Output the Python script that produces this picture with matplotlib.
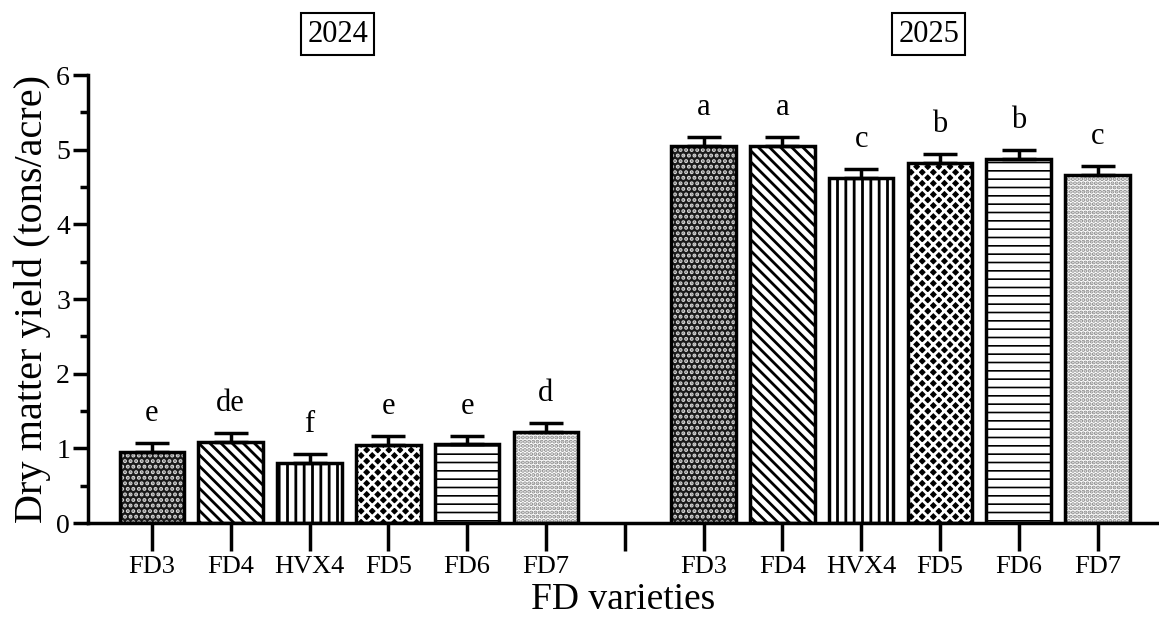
import matplotlib as mpl
import matplotlib.pyplot as plt
import numpy as np

plt.rcParams['font.family'] = ['Liberation Serif', 'DejaVu Serif']
plt.rcParams['hatch.linewidth'] = 2.0

# %% Data
varieties = ['FD3', 'FD4', 'HVX4', 'FD5', 'FD6', 'FD7']
years = ['2024', '2025']
yield_2024 = [0.95, 1.09, 0.80, 1.05, 1.06, 1.22]
err_2024 = [0.12, 0.12, 0.12, 0.12, 0.11, 0.12]
letters_2024 = ['e', 'de', 'f', 'e', 'e', 'd']
yield_2025 = [5.05, 5.05, 4.62, 4.82, 4.88, 4.66]
err_2025 = [0.12, 0.12, 0.12, 0.13, 0.12, 0.12]
letters_2025 = ['a', 'a', 'c', 'b', 'b', 'c']

# hatch style per variety
hatches = ['...', '\\\\\\', '||', 'xxx', '--', '....']
faces = ['#1a1a1a', 'white', 'white', 'black', 'white', 'white']
hcols = ['#d8d8d8', 'black', 'black', 'white', 'black', '#8a8a8a']
hwidths = [2.0, 2.0, 2.0, 2.0, 1.2, 2.0]

# %% Figure
fig = plt.figure(figsize=(11.59, 6.26), dpi=100)
ax = fig.add_axes([0.076, 0.1645, 0.924, 0.7155])

pos_2024 = np.arange(6)
pos_2025 = np.arange(6) + 7
for pos, vals, errs, letters in [(pos_2024, yield_2024, err_2024, letters_2024),
                                 (pos_2025, yield_2025, err_2025, letters_2025)]:
    for i in range(6):
        with mpl.rc_context({'hatch.linewidth': hwidths[i]}):
            ax.bar(pos[i], vals[i], width=0.82, color=faces[i],
                   edgecolor=hcols[i], hatch=hatches[i], linewidth=0, zorder=2)
        ax.bar(pos[i], vals[i], width=0.82, color='none', edgecolor='black',
               linewidth=2.5, zorder=3)
        ax.errorbar(pos[i], vals[i], yerr=[[0], [errs[i]]], fmt='none',
                    ecolor='black', elinewidth=2.5, capsize=12, capthick=2.5,
                    zorder=4)
        ax.text(pos[i], vals[i] + errs[i] + 0.2, letters[i], ha='center',
                va='bottom', fontsize=22)

ax.set_xlim(-0.81, 12.78)
ax.set_ylim(0, 6)
ax.set_yticks(np.arange(0, 7, 1))
ax.set_yticks(np.arange(0, 6.5, 0.5), minor=True)
ax.set_xticks(np.arange(13))
ax.set_xticklabels(varieties + [''] + varieties, fontsize=19)
ax.tick_params(axis='x', length=20, width=2.5, pad=4)
ax.tick_params(axis='y', which='major', length=11, width=2.5, labelsize=20,
               pad=2)
ax.tick_params(axis='y', which='minor', length=6, width=2.5)
for s in ['top', 'right']:
    ax.spines[s].set_visible(False)
for s in ['left', 'bottom']:
    ax.spines[s].set_linewidth(2.5)

ax.set_ylabel('Dry matter yield (tons/acre)', fontsize=29, labelpad=4)
ax.set_xlabel('FD varieties', fontsize=27, labelpad=3)

for xc, yr in [(2.36, years[0]), (9.86, years[1])]:
    ax.text(xc, 6.55, yr, ha='center', va='center', fontsize=22,
            bbox=dict(boxstyle='square,pad=0.2', fc='white', ec='black', lw=1.5),
            transform=ax.transData, clip_on=False)

fig.savefig('out.png', dpi=100)
